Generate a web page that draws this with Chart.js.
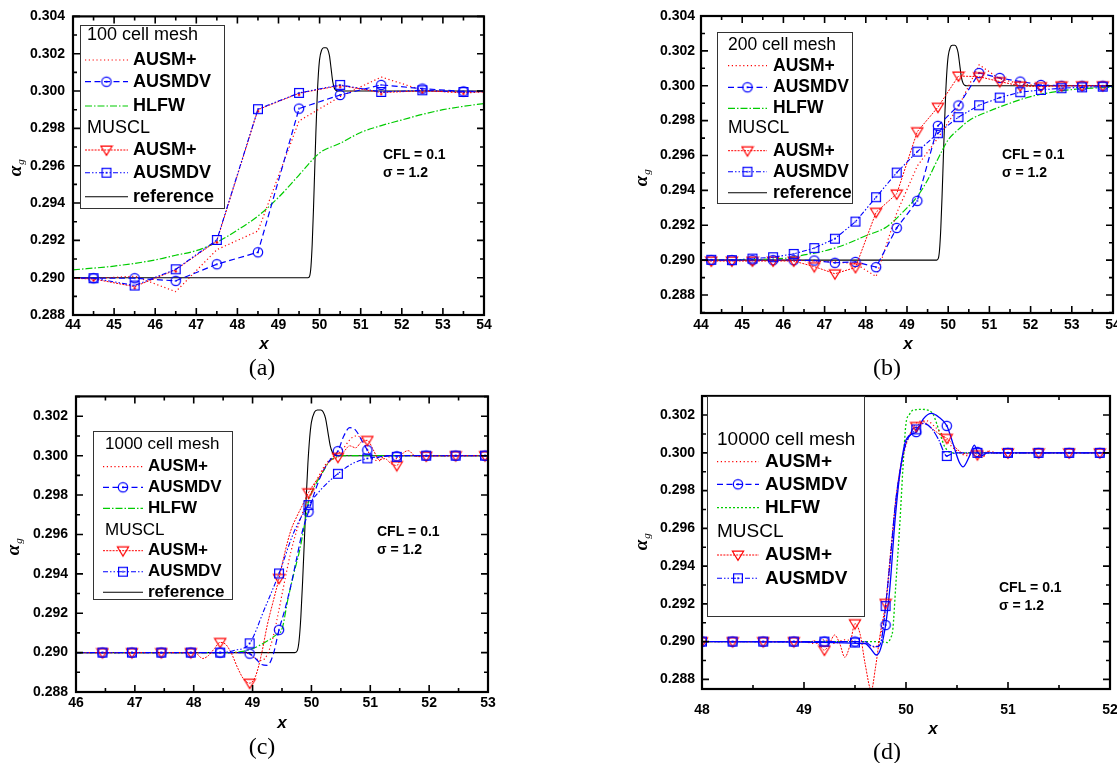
<!DOCTYPE html>
<html>
<head>
<meta charset="utf-8">
<title>Void fraction profiles across the shock</title>
<script src="https://cdn.jsdelivr.net/npm/chart.js@4.4.1/dist/chart.umd.min.js"></script>
<style>
  html, body { margin: 0; padding: 0; background: #fff; }
  body { position: relative; width: 1117px; height: 763px; overflow: hidden; }
  canvas { position: absolute; }
  .cap { position: absolute; font-family: "Liberation Serif", "Times New Roman", serif; font-size: 24px;
         line-height: 1; transform: translate(-50%, -50%); color: #000; white-space: nowrap; }
</style>
</head>
<body>
<canvas id="pa" width="555" height="380" style="left:0px;top:0px"></canvas>
<canvas id="pb" width="585" height="380" style="left:555px;top:0px"></canvas>
<canvas id="pc" width="555" height="383" style="left:0px;top:380px"></canvas>
<canvas id="pd" width="585" height="383" style="left:555px;top:380px"></canvas>
<div class="cap" style="left:262px;top:367px">(a)</div>
<div class="cap" style="left:887px;top:367px">(b)</div>
<div class="cap" style="left:262px;top:746px">(c)</div>
<div class="cap" style="left:887px;top:751px">(d)</div>
<script>
// ---------------- exact (reference) solution, shared by panels a-c ----------------
const refX = [44, 49.72, 49.76, 49.79, 49.82, 49.85, 49.88, 49.91, 49.94, 49.97, 50.0, 50.05, 50.1, 50.16, 50.2, 50.24, 50.28, 50.32, 50.36, 50.4, 50.45, 50.5, 54];
const refY = [0.29, 0.29, 0.2901, 0.2906, 0.2918, 0.2936, 0.2957, 0.2978, 0.2996, 0.3009, 0.3017, 0.3022, 0.30232, 0.30232, 0.30222, 0.3019, 0.3012, 0.3005, 0.30015, 0.30003, 0.3, 0.3, 0.3];

// ---------------- (a) 100 cell mesh ----------------
const xA = [43.5, 44.5, 45.5, 46.5, 47.5, 48.5, 49.5, 50.5, 51.5, 52.5, 53.5, 54.5];
const aAusm        = [0.29, 0.28995, 0.29008, 0.28925, 0.2915, 0.2925, 0.2984, 0.2997, 0.30075, 0.30005, 0.2999, 0.3];
const aAusmdv      = [0.29, 0.28997, 0.28997, 0.28983, 0.29072, 0.29136, 0.29906, 0.29979, 0.30033, 0.30013, 0.29998, 0.3];
const aMusclAusm   = [0.29, 0.28993, 0.28952, 0.29042, 0.29197, 0.299, 0.29988, 0.3003, 0.29992, 0.30001, 0.29993, 0.3];
const aMusclAusmdv = [0.29, 0.28997, 0.28958, 0.29045, 0.29202, 0.29903, 0.2999, 0.30033, 0.29995, 0.30004, 0.29995, 0.3];
const xAHlfw = [44, 45, 46, 46.5, 47, 47.5, 48, 48.5, 49, 49.5, 50, 50.5, 51, 51.5, 52, 52.5, 53, 53.5, 54];
const aHlfw  = [0.29042, 0.29062, 0.29095, 0.2912, 0.29145, 0.2919, 0.29255, 0.2933, 0.2943, 0.2955, 0.29668, 0.2972, 0.29778, 0.29815, 0.29845, 0.29875, 0.299, 0.29918, 0.29933];

// ---------------- (b) 200 cell mesh ----------------
const xB = [43.75, 44.25, 44.75, 45.25, 45.75, 46.25, 46.75, 47.25, 47.75, 48.25, 48.75, 49.25, 49.75, 50.25, 50.75, 51.25, 51.75, 52.25, 52.75, 53.25, 53.75, 54.25];
const bAusm        = [0.29, 0.29, 0.29, 0.29, 0.29, 0.29, 0.28995, 0.2899, 0.2898, 0.28906, 0.2927, 0.2954, 0.297, 0.2988, 0.3012, 0.3004, 0.3001, 0.3, 0.3, 0.3, 0.3, 0.3];
const bAusmdv      = [0.29, 0.29, 0.29, 0.29, 0.29, 0.29, 0.28998, 0.28985, 0.2899, 0.2896, 0.29185, 0.2934, 0.2977, 0.29887, 0.30073, 0.30045, 0.30024, 0.30005, 0.3, 0.3, 0.3, 0.3];
const bMusclAusm   = [0.29, 0.28995, 0.28995, 0.28995, 0.28995, 0.28995, 0.28963, 0.28922, 0.28958, 0.29275, 0.2938, 0.29737, 0.29877, 0.30056, 0.30052, 0.30024, 0.29999, 0.29995, 0.3, 0.3, 0.3, 0.3];
const bMusclAusmdv = [0.29, 0.29002, 0.29, 0.29009, 0.29017, 0.29036, 0.29069, 0.29123, 0.29221, 0.29361, 0.29502, 0.29622, 0.29728, 0.2982, 0.29888, 0.29932, 0.29963, 0.29976, 0.29986, 0.29991, 0.29995, 0.29997];
const xBHlfw = [44, 45, 46, 46.5, 47, 47.5, 48, 48.5, 49, 49.25, 49.5, 49.75, 50, 50.25, 50.5, 51, 51.5, 52, 52.5, 53, 53.5, 54];
const bHlfw  = [0.29, 0.29003, 0.2901, 0.2903, 0.29053, 0.2909, 0.2914, 0.2919, 0.293, 0.29365, 0.2946, 0.2958, 0.2969, 0.2975, 0.298, 0.29855, 0.299, 0.29938, 0.29962, 0.29978, 0.29987, 0.29991];

// ---------------- (c) 1000 cell mesh ----------------
const xCMarks = [46.45, 46.95, 47.45, 47.95, 48.45, 48.95, 49.45, 49.95, 50.45, 50.95, 51.45, 51.95, 52.45, 52.95];
const cAusmdvMarks      = [0.29, 0.29, 0.29, 0.29, 0.29, 0.28995, 0.29116, 0.29715, 0.30023, 0.30028, 0.29997, 0.3, 0.3, 0.3];
const cMusclAusmMarks   = [0.29, 0.29, 0.29, 0.29, 0.29052, 0.28845, 0.29377, 0.29812, 0.29992, 0.30078, 0.2995, 0.29998, 0.3, 0.3];
const cMusclAusmdvMarks = [0.29, 0.29, 0.29, 0.29, 0.29, 0.29047, 0.29402, 0.29749, 0.29908, 0.29986, 0.29994, 0.3, 0.3, 0.3];
const xCAusm = [46, 48.85, 48.95, 49.05, 49.15, 49.25, 49.35, 49.45, 49.55, 49.65, 49.75, 49.85, 49.95, 50.05, 50.15, 50.25, 50.35, 50.45, 50.55, 50.65, 50.75, 50.85, 50.95, 51.05, 51.15, 51.25, 51.35, 51.45, 51.55, 53];
const cAusm  = [0.29, 0.29, 0.28992, 0.2897, 0.2896, 0.2899, 0.2908, 0.2922, 0.2937, 0.2951, 0.2962, 0.2971, 0.2978, 0.2985, 0.2991, 0.2996, 0.2999, 0.3001, 0.3004, 0.3008, 0.301, 0.3009, 0.3003, 0.2998, 0.29975, 0.3, 0.2999, 0.29985, 0.3, 0.3];
const xCAusmdv = [46, 48.85, 48.95, 49.05, 49.15, 49.25, 49.35, 49.45, 49.55, 49.65, 49.75, 49.85, 49.95, 50.05, 50.15, 50.25, 50.35, 50.45, 50.55, 50.65, 50.75, 50.85, 50.95, 51.05, 51.15, 51.25, 53];
const cAusmdv  = [0.29, 0.29, 0.28995, 0.2897, 0.2894, 0.28935, 0.2899, 0.29116, 0.2922, 0.2934, 0.2948, 0.2962, 0.29715, 0.2981, 0.2989, 0.2995, 0.2999, 0.30023, 0.301, 0.30142, 0.3013, 0.3008, 0.30028, 0.29985, 0.29993, 0.3, 0.3];
const xCHlfw = [46, 48.5, 48.8, 49.0, 49.2, 49.4, 49.5, 49.6, 49.7, 49.8, 49.9, 49.94, 50.0, 50.1, 50.2, 50.3, 50.4, 50.5, 53];
const cHlfw  = [0.29, 0.29, 0.29005, 0.2902, 0.2905, 0.2909, 0.2912, 0.2927, 0.294, 0.2952, 0.2968, 0.29753, 0.2981, 0.2987, 0.2992, 0.2997, 0.2999, 0.3, 0.3];
const xCMusclAusm = [46, 47.95, 48.05, 48.15, 48.25, 48.35, 48.45, 48.55, 48.65, 48.75, 48.85, 48.95, 49.05, 49.15, 49.25, 49.35, 49.45, 49.55, 49.65, 49.75, 49.85, 49.95, 50.05, 50.15, 50.25, 50.35, 50.45, 50.55, 50.65, 50.75, 50.85, 50.95, 51.05, 51.15, 51.25, 51.35, 51.45, 51.55, 51.65, 51.75, 51.85, 51.95, 53];
const cMusclAusm  = [0.29, 0.29, 0.28995, 0.2897, 0.28985, 0.2902, 0.29052, 0.2904, 0.2899, 0.2892, 0.28865, 0.28845, 0.2888, 0.2899, 0.2914, 0.2926, 0.29377, 0.2951, 0.2962, 0.2969, 0.2975, 0.29812, 0.2986, 0.299, 0.2995, 0.2998, 0.29992, 0.3002, 0.3005, 0.3004, 0.3007, 0.30078, 0.3003, 0.2998, 0.29985, 0.2996, 0.2995, 0.3001, 0.30025, 0.3, 0.29995, 0.29998, 0.3];
const xCMusclAusmdv = [46, 48.45, 48.7, 48.95, 49.2, 49.45, 49.7, 49.95, 50.2, 50.45, 50.7, 50.95, 51.2, 51.45, 53];
const cMusclAusmdv  = [0.29, 0.29, 0.29012, 0.29047, 0.2922, 0.29402, 0.2961, 0.29749, 0.2984, 0.29908, 0.2996, 0.29986, 0.29995, 0.3, 0.3];

// ---------------- (d) 10000 cell mesh ----------------
const xDMarks = [48, 48.3, 48.6, 48.9, 49.2, 49.5, 49.8, 50.1, 50.4, 50.7, 51, 51.3, 51.6, 51.9];
const dAusmdvMarks      = [0.29, 0.29, 0.29, 0.29, 0.29, 0.29, 0.29088, 0.3011, 0.30143, 0.30005, 0.3, 0.3, 0.3, 0.3];
const dMusclAusmMarks   = [0.29, 0.29, 0.29, 0.29, 0.28955, 0.29095, 0.29203, 0.3014, 0.30077, 0.2999, 0.3, 0.3, 0.3, 0.3];
const dMusclAusmdvMarks = [0.29, 0.29, 0.29, 0.29, 0.29, 0.28995, 0.29188, 0.30124, 0.29983, 0.3, 0.3, 0.3, 0.3, 0.3];
const xDAusm = [48, 49.0, 49.1, 49.2, 49.3, 49.4, 49.5, 49.6, 49.7, 49.75, 49.8, 49.85, 49.9, 49.95, 50.0, 50.06, 50.12, 50.2, 50.28, 50.35, 50.42, 50.5, 50.6, 50.7, 50.75, 50.8, 50.9, 52];
const dAusm  = [0.29, 0.29, 0.2899, 0.2901, 0.2899, 0.2901, 0.29, 0.2899, 0.2897, 0.2903, 0.2918, 0.2945, 0.2972, 0.2992, 0.3004, 0.3012, 0.30165, 0.3017, 0.3014, 0.301, 0.3005, 0.3001, 0.29985, 0.3001, 0.29975, 0.3001, 0.3, 0.3];
const xDAusmdv = [48, 49.6, 49.65, 49.71, 49.75, 49.8, 49.84, 49.89, 49.94, 50.0, 50.1, 50.17, 50.25, 50.32, 50.4, 50.46, 50.52, 50.56, 50.62, 50.67, 50.7, 50.74, 50.8, 52];
const dAusmdv  = [0.29, 0.2899, 0.28965, 0.28929, 0.2896, 0.29088, 0.29273, 0.29626, 0.29891, 0.30068, 0.3011, 0.3018, 0.30209, 0.3019, 0.30143, 0.3005, 0.29953, 0.29926, 0.2998, 0.30041, 0.30005, 0.29985, 0.3, 0.3];
const xDHlfw = [48, 49.75, 49.82, 49.85, 49.87, 49.9, 49.94, 49.97, 50.0, 50.03, 50.07, 50.15, 50.23, 50.27, 50.3, 50.34, 50.38, 50.45, 52];
const dHlfw  = [0.29, 0.29, 0.28995, 0.2902, 0.2906, 0.293, 0.2963, 0.2992, 0.30156, 0.302, 0.30226, 0.3023, 0.30223, 0.302, 0.30156, 0.3009, 0.30032, 0.3, 0.3];
const xDMusclAusm = [48, 49.0, 49.05, 49.1, 49.15, 49.2, 49.25, 49.3, 49.35, 49.4, 49.45, 49.5, 49.55, 49.6, 49.66, 49.7, 49.75, 49.8, 49.85, 49.9, 49.95, 50.0, 50.05, 50.1, 50.17, 50.25, 50.3, 50.35, 50.4, 50.45, 50.5, 50.55, 50.6, 50.65, 50.7, 50.75, 50.8, 50.85, 50.9, 52];
const dMusclAusm  = [0.29, 0.29, 0.28995, 0.29005, 0.2898, 0.28955, 0.2899, 0.29035, 0.2899, 0.28917, 0.2898, 0.29095, 0.2904, 0.2888, 0.28743, 0.2886, 0.2905, 0.29203, 0.2948, 0.2975, 0.2994, 0.3005, 0.3011, 0.3014, 0.30165, 0.3013, 0.3011, 0.3009, 0.30077, 0.3005, 0.3002, 0.3, 0.29995, 0.30005, 0.2999, 0.29975, 0.30008, 0.29998, 0.3, 0.3];
const xDMusclAusmdv = [48, 49.6, 49.65, 49.72, 49.76, 49.8, 49.85, 49.9, 49.95, 50.0, 50.1, 50.17, 50.25, 50.32, 50.4, 50.45, 50.5, 52];
const dMusclAusmdv  = [0.29, 0.29, 0.2898, 0.28973, 0.2901, 0.29188, 0.2946, 0.2975, 0.2993, 0.3005, 0.30124, 0.30156, 0.3013, 0.3007, 0.29983, 0.29995, 0.3, 0.3];

// ---------------- tick labels ----------------
const xTicksAB = [44, 45, 46, 47, 48, 49, 50, 51, 52, 53, 54];
const xTicksC  = [46, 47, 48, 49, 50, 51, 52, 53];
const xTicksD  = [48, 49, 50, 51, 52];
const yTicksAB = [0.288, 0.290, 0.292, 0.294, 0.296, 0.298, 0.300, 0.302, 0.304];
const yTicksCD = [0.288, 0.290, 0.292, 0.294, 0.296, 0.298, 0.300, 0.302];

// ---------------- legend text ----------------
const legendNames = ['AUSM+', 'AUSMDV', 'HLFW', 'MUSCL', 'AUSM+', 'AUSMDV', 'reference'];
const legendKeys  = ['ausm', 'ausmdv', 'hlfw', null, 'musclAusm', 'musclAusmdv', 'ref'];

// ---------------- drawing styles ----------------
const RED = '#ff0000', BLUE = '#0000ff', GREEN = '#00cc00', BLACK = '#000000';
const FONT = 'Arial, "Liberation Sans", sans-serif';
const STYLE = {
  ausm:        { color: RED,   width: 1.2, dash: [1.2, 2.6] },
  ausmdv:      { color: BLUE,  width: 1.2, dash: [6, 3.5], marker: 'circle' },
  hlfw:        { color: GREEN, width: 1.2, dash: [7, 2, 1.5, 2] },
  musclAusm:   { color: RED,   width: 1.0, dash: [2, 1.2], marker: 'tri' },
  musclAusmdv: { color: BLUE,  width: 1.1, dash: [5, 2, 1.5, 2, 1.5, 2], marker: 'square' },
  ref:         { color: BLACK, width: 1.1, dash: [] },
  hlfwDot:     { color: GREEN, width: 1.3, dash: [2, 2] },
  ausmdvFine:  { color: BLUE,  width: 1.3, dash: [] },
  musclAusmdvFine: { color: BLUE, width: 1.2, dash: [8, 1.5, 1.5, 1.5] }
};

function makeMarker(kind, color) {
  const c = document.createElement('canvas');
  c.width = 14; c.height = 14;
  const g = c.getContext('2d');
  const m = 7;
  g.strokeStyle = color; g.fillStyle = color; g.lineWidth = 1.2;
  if (kind === 'circle') {
    g.beginPath(); g.arc(m, m, 4.7, 0, Math.PI * 2); g.stroke();
    g.beginPath(); g.arc(m, m, 0.9, 0, Math.PI * 2); g.fill();
  } else if (kind === 'square') {
    g.strokeRect(m - 4.4, m - 4.4, 8.8, 8.8);
    g.fillRect(m - 0.8, m - 0.8, 1.6, 1.6);
  } else if (kind === 'tri') {
    g.beginPath(); g.moveTo(m - 5.6, m - 3.8); g.lineTo(m + 5.6, m - 3.8); g.lineTo(m, m + 5.4); g.closePath(); g.stroke();
  } else if (kind === 'dot') {
    g.beginPath(); g.arc(m, m + 1.5, 1.3, 0, Math.PI * 2); g.fill();
  }
  return c;
}
const IMG = {
  circle: makeMarker('circle', BLUE),
  square: makeMarker('square', BLUE),
  tri: makeMarker('tri', RED),
  dot: makeMarker('dot', RED)
};

function series(xs, ys, sty, o = {}) {
  return {
    data: xs.map((x, i) => ({ x: x, y: ys[i] })),
    borderColor: sty.color,
    borderWidth: sty.width,
    borderDash: sty.dash,
    showLine: o.showLine !== false,
    pointStyle: o.marker ? IMG[o.marker] : 'circle',
    pointRadius: o.marker ? 5 : 0,
    cubicInterpolationMode: o.smooth ? 'monotone' : 'default',
    tension: 0,
    fill: false,
    order: o.order || 0
  };
}

// inward major/minor ticks on all four sides, plus the heavy frame
function drawFrame(chart, spec) {
  const ctx = chart.ctx, a = chart.chartArea, xs = chart.scales.x, ys = chart.scales.y;
  ctx.save();
  ctx.strokeStyle = '#000';
  ctx.lineWidth = 1.6;
  const list = (lo, hi, step) => { const out = []; for (let n = Math.ceil(lo / step - 1e-6); n * step <= hi + 1e-9; n++) out.push(n * step); return out; };
  const isMajor = (v, majors) => majors.some(m => Math.abs(m - v) < 1e-7);
  const xMaj = spec.xTicks, yMaj = spec.yTicks;
  ctx.beginPath();
  list(xs.min, xs.max, spec.xMinor).forEach(v => {
    const p = xs.getPixelForValue(v), len = isMajor(v, xMaj) ? 7 : 4;
    ctx.moveTo(p, a.bottom); ctx.lineTo(p, a.bottom - len);
    ctx.moveTo(p, a.top); ctx.lineTo(p, a.top + len);
  });
  list(ys.min, ys.max, spec.yMinor).forEach(v => {
    const p = ys.getPixelForValue(v), len = isMajor(v, yMaj) ? 7 : 4;
    ctx.moveTo(a.left, p); ctx.lineTo(a.left + len, p);
    ctx.moveTo(a.right, p); ctx.lineTo(a.right - len, p);
  });
  ctx.stroke();
  ctx.lineWidth = 2.2;
  ctx.strokeRect(a.left, a.top, a.right - a.left, a.bottom - a.top);
  ctx.restore();
}

function drawSample(ctx, sty, x1, x2, y) {
  ctx.save();
  ctx.strokeStyle = sty.color; ctx.lineWidth = sty.width; ctx.setLineDash(sty.dash);
  ctx.beginPath(); ctx.moveTo(x1, y); ctx.lineTo(x2, y); ctx.stroke();
  ctx.restore();
  if (sty.marker) { const im = IMG[sty.marker]; ctx.drawImage(im, (x1 + x2) / 2 - im.width / 2, y - im.height / 2); }
}

function drawDecor(chart, spec) {
  const ctx = chart.ctx, ox = spec.off[0], oy = spec.off[1], lg = spec.legend;
  ctx.save();
  // legend box
  const [l, t, r, b] = lg.box;
  ctx.fillStyle = '#fff';
  ctx.fillRect(l - ox, t - oy, r - l, b - t);
  ctx.strokeStyle = '#333'; ctx.lineWidth = 1;
  ctx.strokeRect(Math.round(l - ox) + 0.5, Math.round(t - oy) + 0.5, Math.round(r - l) - 1, Math.round(b - t) - 1);
  ctx.textBaseline = 'middle'; ctx.textAlign = 'left'; ctx.fillStyle = '#000';
  ctx.font = lg.size + 'px ' + FONT;
  ctx.fillText(lg.title, lg.hx - ox, lg.ys[0] - oy);
  lg.keys.forEach((key, i) => {
    const y = lg.ys[i + 1] - oy;
    if (key === null) {
      ctx.font = lg.size + 'px ' + FONT;
      ctx.fillText(lg.names[i], lg.hx - ox, y);
    } else {
      const sty = Object.assign({}, STYLE[key], lg.sampleOverride && lg.sampleOverride[key] ? STYLE[lg.sampleOverride[key]] : {});
      if (STYLE[key].marker) sty.marker = STYLE[key].marker;
      drawSample(ctx, sty, lg.x1 - ox, lg.x2 - ox, y);
      ctx.font = 'bold ' + lg.size + 'px ' + FONT;
      ctx.fillStyle = '#000';
      ctx.fillText(lg.names[i], lg.tx - ox, y);
    }
  });
  // run conditions
  ctx.font = 'bold 14px ' + FONT;
  ctx.fillText('CFL = 0.1', spec.note[0] - ox, spec.note[1] - oy);
  ctx.fillText('\u03c3 = 1.2', spec.note[0] - ox, spec.note[1] + 18.5 - oy);
  // axis titles
  ctx.textAlign = 'center';
  ctx.font = 'bold italic 17px ' + FONT;
  ctx.fillText('x', spec.xTitle[0] - ox, spec.xTitle[1] - oy);
  ctx.translate(spec.yTitle[0] - ox, spec.yTitle[1] - oy);
  ctx.rotate(-Math.PI / 2);
  ctx.font = 'bold italic 19px "Liberation Serif", "Times New Roman", serif';
  ctx.fillText('\u03b1', 0, 0);
  ctx.font = 'italic 11px "Liberation Serif", "Times New Roman", serif';
  ctx.fillText('g', 9, 5);
  ctx.restore();
}

function panel(spec) {
  const cv = document.getElementById(spec.id);
  const ox = spec.off[0], oy = spec.off[1];
  const [L, T, R, B] = spec.area;
  const XH = 44;
  const tickFont = { family: FONT, weight: 'bold', size: 14 };
  return new Chart(cv, {
    type: 'line',
    data: { datasets: spec.datasets },
    options: {
      responsive: false,
      animation: false,
      events: [],
      layout: { autoPadding: false, padding: { left: 0, top: T - oy, right: ox + cv.width - R, bottom: oy + cv.height - B - XH } },
      plugins: { legend: { display: false }, tooltip: { enabled: false } },
      scales: {
        x: {
          type: 'linear', min: spec.xr[0], max: spec.xr[1],
          grid: { display: false, drawTicks: false }, border: { display: false },
          afterBuildTicks: s => { s.ticks = spec.xTicks.map(v => ({ value: v })); },
          afterFit: s => { s.height = XH; },
          ticks: { autoSkip: false, maxRotation: 0, padding: spec.xPad, color: '#000', font: tickFont, callback: v => String(v) }
        },
        y: {
          type: 'linear', min: spec.yr[0], max: spec.yr[1],
          grid: { display: false, drawTicks: false }, border: { display: false },
          afterBuildTicks: s => { s.ticks = spec.yTicks.map(v => ({ value: v })); },
          afterFit: s => { s.width = L - ox; },
          ticks: { autoSkip: false, padding: spec.yPad, color: '#000', font: tickFont, callback: v => Number(v).toFixed(3) }
        }
      }
    },
    plugins: [{
      id: 'decor' + spec.id,
      afterDatasetsDraw: chart => drawFrame(chart, spec),
      afterDraw: chart => drawDecor(chart, spec)
    }]
  });
}

// (a) 100 cell mesh
panel({
  id: 'pa', off: [0, 0], area: [73, 16, 484, 315],
  xr: [44, 54], yr: [0.288, 0.304], xTicks: xTicksAB, yTicks: yTicksAB, xMinor: 0.5, yMinor: 0.001,
  xPad: 2, yPad: 8, note: [383, 155], xTitle: [264, 344], yTitle: [16, 171],
  legend: { box: [80, 25, 225, 209], title: '100 cell mesh', names: legendNames, keys: legendKeys, size: 18,
            ys: [35, 60, 81.7, 106, 128, 150, 172.7, 196.7], hx: 87, x1: 85, x2: 128, tx: 133 },
  datasets: [
    series(xA, aMusclAusmdv, STYLE.musclAusmdv, { marker: 'square' }),
    series(xA, aMusclAusm, STYLE.musclAusm, { marker: 'dot' }),
    series(xA, aAusmdv, STYLE.ausmdv, { marker: 'circle' }),
    series(xA, aAusm, STYLE.ausm),
    series(xAHlfw, aHlfw, STYLE.hlfw, { smooth: true }),
    series(refX, refY, STYLE.ref, { smooth: true })
  ]
});

// (b) 200 cell mesh
panel({
  id: 'pb', off: [555, 0], area: [701, 16, 1113, 313],
  xr: [44, 54], yr: [0.28697, 0.304], xTicks: xTicksAB, yTicks: yTicksAB, xMinor: 0.5, yMinor: 0.001,
  xPad: 4, yPad: 6, note: [1002, 155], xTitle: [908, 344], yTitle: [642, 181],
  legend: { box: [717, 32, 853, 204], title: '200 cell mesh', names: legendNames, keys: legendKeys, size: 17.5,
            ys: [45, 65.7, 87.3, 108.3, 128.3, 150.7, 171.7, 192.7], hx: 728, x1: 728, x2: 767, tx: 773 },
  datasets: [
    series(xB, bMusclAusmdv, STYLE.musclAusmdv, { marker: 'square' }),
    series(xB, bMusclAusm, STYLE.musclAusm, { marker: 'tri' }),
    series(xB, bAusmdv, STYLE.ausmdv, { marker: 'circle' }),
    series(xB, bAusm, STYLE.ausm),
    series(xBHlfw, bHlfw, STYLE.hlfw, { smooth: true }),
    series(refX, refY, STYLE.ref, { smooth: true })
  ]
});

// (c) 1000 cell mesh
panel({
  id: 'pc', off: [0, 380], area: [76, 395, 488, 692],
  xr: [46, 53], yr: [0.288, 0.30301], xTicks: xTicksC, yTicks: yTicksCD, xMinor: 0.5, yMinor: 0.001,
  xPad: 3, yPad: 8, note: [377, 532], xTitle: [282, 723], yTitle: [14, 550],
  legend: { box: [93, 431, 233, 600], title: '1000 cell mesh', names: legendNames, keys: legendKeys, size: 17,
            ys: [444, 466.7, 487.3, 508.3, 530, 550.7, 571.7, 592.3], hx: 105, x1: 103, x2: 143, tx: 148 },
  datasets: [
    series(xCMarks, cMusclAusmdvMarks, STYLE.musclAusmdv, { marker: 'square', showLine: false }),
    series(xCMarks, cMusclAusmMarks, STYLE.musclAusm, { marker: 'tri', showLine: false }),
    series(xCMarks, cAusmdvMarks, STYLE.ausmdv, { marker: 'circle', showLine: false }),
    series(xCMusclAusmdv, cMusclAusmdv, STYLE.musclAusmdv, { smooth: true }),
    series(xCMusclAusm, cMusclAusm, STYLE.musclAusm, { smooth: true }),
    series(xCAusmdv, cAusmdv, STYLE.ausmdv, { smooth: true }),
    series(xCAusm, cAusm, STYLE.ausm, { smooth: true }),
    series(xCHlfw, cHlfw, STYLE.hlfw, { smooth: true }),
    series(refX, refY, STYLE.ref, { smooth: true })
  ]
});

// (d) 10000 cell mesh
panel({
  id: 'pd', off: [555, 380], area: [702, 396, 1110, 689],
  xr: [48, 52], yr: [0.28749, 0.30301], xTicks: xTicksD, yTicks: yTicksCD, xMinor: 0.5, yMinor: 0.001,
  xPad: 13, yPad: 7, note: [999, 588], xTitle: [933, 729], yTitle: [642, 545],
  legend: { box: [707, 396, 865, 617], title: '10000 cell mesh', names: legendNames.slice(0, 6), keys: legendKeys.slice(0, 6), size: 19,
            ys: [440, 461.7, 484.3, 507.7, 531.7, 555, 578.3], hx: 717, x1: 717, x2: 759, tx: 765,
            sampleOverride: { hlfw: 'hlfwDot' } },
  datasets: [
    series(xDMarks, dMusclAusmdvMarks, STYLE.musclAusmdv, { marker: 'square', showLine: false }),
    series(xDMarks, dMusclAusmMarks, STYLE.musclAusm, { marker: 'tri', showLine: false }),
    series(xDMarks, dAusmdvMarks, STYLE.ausmdv, { marker: 'circle', showLine: false }),
    series(xDMusclAusmdv, dMusclAusmdv, STYLE.musclAusmdvFine, { smooth: true }),
    series(xDAusmdv, dAusmdv, STYLE.ausmdvFine, { smooth: true }),
    series(xDMusclAusm, dMusclAusm, STYLE.musclAusm, { smooth: true }),
    series(xDAusm, dAusm, STYLE.ausm, { smooth: true }),
    series(xDHlfw, dHlfw, STYLE.hlfwDot, { smooth: true })
  ]
});
</script>
</body>
</html>
